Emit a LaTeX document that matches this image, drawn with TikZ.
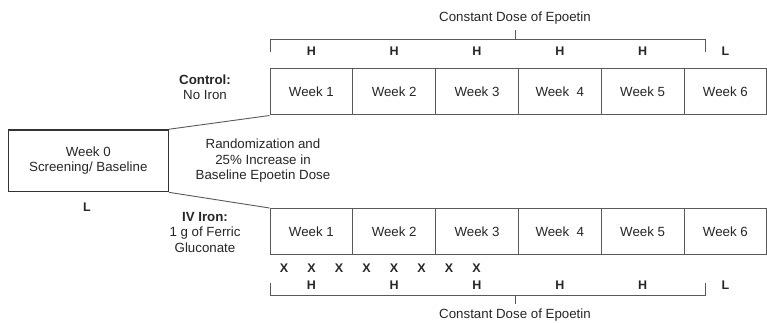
\documentclass[tikz,border=0pt]{standalone}
\usepackage{fontspec}
\setmainfont{Liberation Sans}
\begin{document}
\begin{tikzpicture}[x=1pt,y=-1pt,
  every node/.style={font=\fontsize{13.3}{15.5}\selectfont, text=black!85},
  wk/.style={draw=black!65, line width=1pt, minimum width=82.8pt, minimum height=46pt, inner sep=0pt},
  w0box/.style={draw=black!80, line width=1.4pt, minimum width=160pt, minimum height=61.7pt, inner sep=0pt, align=center},
  ln/.style={draw=black!65, line width=0.9pt},
  lbl/.style={font=\fontsize{12.5}{14}\selectfont\bfseries, inner sep=0pt},
  txt/.style={align=center, inner sep=0pt}]
\useasboundingbox (0,0) rectangle (767,323);
% week 0
\node[w0box] (w0) at (88.3,160.8) {Week 0\\Screening/ Baseline};
\node[lbl] (l0) at (87,207) {L};
% week rows
\foreach \i/\t in {1/Week 1,2/Week 2,3/Week 3,4/Week~~4,5/Week 5,6/Week 6} {
  \node[wk] (t\i) at ({270+82.8*(\i-0.5)},92) {\t};
  \node[wk] (b\i) at ({270+82.8*(\i-0.5)},231.5) {\t};
}
\draw[ln] (w0.north east) -- (t1.south west);
\draw[ln] (w0.south east) -- (b1.north west);
% texts
\node[txt] (ctrl) at (205,87) {\textbf{Control:}\\No Iron};
\node[txt] (rand) at (263,161) {Randomization and\\25\% Increase in\\Baseline Epoetin Dose};
\node[txt] (iv) at (205,232) {\textbf{IV Iron:}\\1 g of Ferric\\Gluconate};
% top bracket
\coordinate (tl) at (270,52);
\coordinate (tla) at (270,39);
\coordinate (tra) at (705,39);
\coordinate (tr) at (705,52);
\coordinate (tm) at (515,39);
\coordinate (tmt) at (515,30);
\draw[ln] (tl) -- (tla) -- (tra) -- (tr);
\draw[ln] (tm) -- (tmt);
\node[txt] (ttxt) at (515,18) {Constant Dose of Epoetin};
\foreach \i in {1,...,5} {
  \node[lbl] (th\i) at (t\i |- 0,51) {H};
  \node[lbl] (bh\i) at (b\i |- 0,285) {H};
}
\node[lbl] (tL) at (t6 |- 0,51) {L};
\node[lbl] (bL) at (t6 |- 0,285) {L};
% X marks
\foreach \k in {0,...,7} {
  \node[lbl] (x\k) at ({284+27.5*\k},268) {X};
}
% bottom bracket
\coordinate (bl) at (270,283);
\coordinate (bla) at (270,295);
\coordinate (bra) at (705,295);
\coordinate (br) at (705,283);
\coordinate (bm) at (515,295);
\coordinate (bmt) at (515,304);
\draw[ln] (bl) -- (bla) -- (bra) -- (br);
\draw[ln] (bm) -- (bmt);
\node[txt] (btxt) at (515,315) {Constant Dose of Epoetin};
\end{tikzpicture}
\end{document}
